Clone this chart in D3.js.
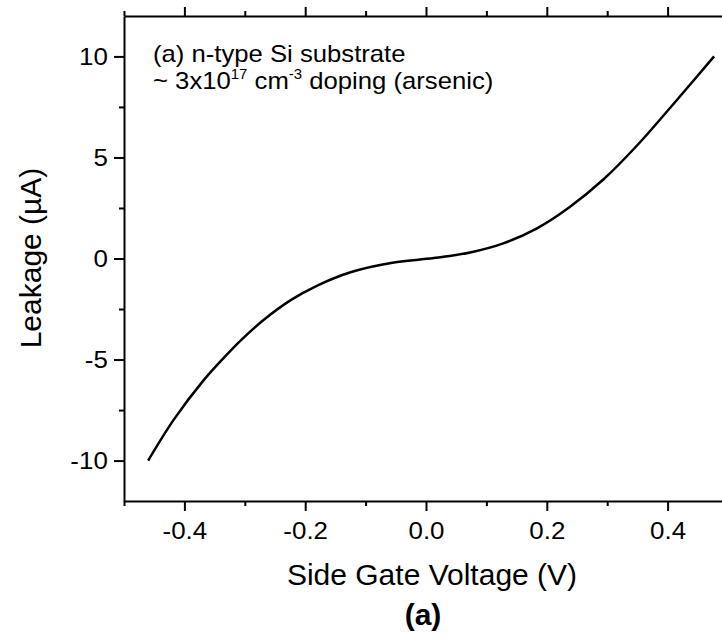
<!DOCTYPE html>
<html>
<head>
<meta charset="utf-8">
<script src="https://cdn.jsdelivr.net/npm/d3@7"></script>
<style>
  body { margin: 0; background: #fff; }
  svg { display: block; font-family: 'Liberation Sans', Arial, sans-serif; }
  .axis path, .axis line { stroke: #000; stroke-width: 2; }
  .axis text { font-size: 24px; fill: #000; font-family: 'Liberation Sans', Arial, sans-serif; }
</style>
</head>
<body>
<div id="chart"></div>
<script>
/* global d3 */

// curve: side gate voltage (V) vs leakage (uA)
const voltage = [-0.46, -0.417, -0.368, -0.334, -0.307, -0.268, -0.224, -0.18, -0.125, -0.058,
  0.013, 0.073, 0.128, 0.183, 0.238, 0.294, 0.349, 0.404, 0.477];
const leakage = [-10, -7.95, -6.02, -4.89, -4.06, -3.02, -2.06, -1.34, -0.68, -0.22,
  0.02, 0.30, 0.75, 1.48, 2.55, 3.92, 5.58, 7.45, 10];

const xMajorTicks = [-0.4, -0.2, 0, 0.2, 0.4];
const xMinorTicks = [-0.5, -0.3, -0.1, 0.1, 0.3, 0.5];
const yMajorTicks = [-10, -5, 0, 5, 10];
const yMinorTicks = [-7.5, -2.5, 2.5, 7.5];

const width = 722;
const height = 639;
const plot = { left: 124, right: 728, top: 16, bottom: 501 };

const svg = d3.select('#chart').append('svg')
  .attr('width', width)
  .attr('height', height);

svg.append('rect')
  .attr('width', width)
  .attr('height', height)
  .style('fill', '#fff');

const xScale = d3.scaleLinear()
  .domain([-0.5, 0.5])
  .range([plot.left, plot.right]);

const yScale = d3.scaleLinear()
  .domain([-12, 12])
  .range([plot.bottom, plot.top]);

// bottom axis
const xAxis = svg.append('g')
  .attr('class', 'axis')
  .attr('transform', `translate(0,${plot.bottom})`)
  .call(d3.axisBottom(xScale)
    .tickValues(xMajorTicks)
    .tickSizeInner(10)
    .tickSizeOuter(0)
    .tickPadding(11)
    .tickFormat((d) => d.toFixed(1)));

xAxis.selectAll('.tick text').attr('transform', 'scale(1.08,1)');

svg.append('g')
  .attr('class', 'axis')
  .attr('transform', `translate(0,${plot.bottom})`)
  .call(d3.axisBottom(xScale).tickValues(xMinorTicks).tickSize(5).tickFormat(''))
  .select('.domain').remove();

// top axis, ticks only
svg.append('g')
  .attr('class', 'axis')
  .attr('transform', `translate(0,${plot.top})`)
  .call(d3.axisTop(xScale).tickValues(xMajorTicks).tickSizeInner(9).tickSizeOuter(0).tickFormat(''));

svg.append('g')
  .attr('class', 'axis')
  .attr('transform', `translate(0,${plot.top})`)
  .call(d3.axisTop(xScale).tickValues(xMinorTicks).tickSize(5).tickFormat(''))
  .select('.domain').remove();

// left axis
const yAxis = svg.append('g')
  .attr('class', 'axis')
  .attr('transform', `translate(${plot.left},0)`)
  .call(d3.axisLeft(yScale)
    .tickValues(yMajorTicks)
    .tickSizeInner(10)
    .tickSizeOuter(0)
    .tickPadding(5)
    .tickFormat((d) => String(d)));

yAxis.selectAll('.tick text').attr('transform', 'scale(1.08,1)');

svg.append('g')
  .attr('class', 'axis')
  .attr('transform', `translate(${plot.left},0)`)
  .call(d3.axisLeft(yScale).tickValues(yMinorTicks).tickSize(5).tickFormat(''))
  .select('.domain').remove();

// the leakage curve
const points = voltage.map((v, i) => ({ v, i: leakage[i] }));

const line = d3.line()
  .x((d) => xScale(d.v))
  .y((d) => yScale(d.i))
  .curve(d3.curveCatmullRom.alpha(0.5));

svg.append('path')
  .datum(points)
  .attr('d', line)
  .style('fill', 'none')
  .style('stroke', '#000')
  .style('stroke-width', 2.5);

// annotation
const note = svg.append('g')
  .attr('transform', 'translate(153,0) scale(1.07,1)')
  .style('font-size', '24px');

note.append('text')
  .attr('y', 62)
  .text('(a) n-type Si substrate');

const note2 = note.append('text').attr('y', 89.5);
note2.append('tspan').text('~ 3x10');
note2.append('tspan').attr('dy', -10).style('font-size', '14px').text('17');
note2.append('tspan').attr('dy', 10).text(' cm');
note2.append('tspan').attr('dy', -10).style('font-size', '14px').text('-3');
note2.append('tspan').attr('dy', 10).text(' doping (arsenic)');

// axis titles
svg.append('text')
  .attr('x', 432)
  .attr('y', 585)
  .style('text-anchor', 'middle')
  .style('font-size', '30px')
  .text('Side Gate Voltage (V)');

svg.append('text')
  .attr('transform', 'translate(41,258) rotate(-90)')
  .style('text-anchor', 'middle')
  .style('font-size', '30px')
  .text('Leakage (\u00b5A)');

svg.append('text')
  .attr('x', 423)
  .attr('y', 625)
  .style('text-anchor', 'middle')
  .style('font-size', '30px')
  .style('font-weight', 'bold')
  .text('(a)');
</script>
</body>
</html>
